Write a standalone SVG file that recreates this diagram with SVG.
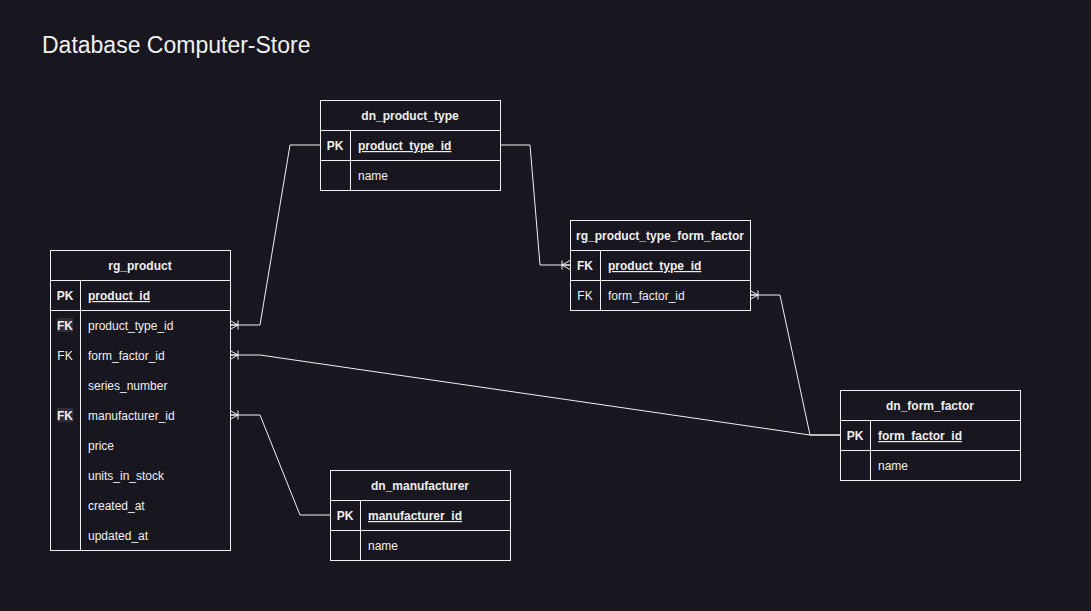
<svg xmlns="http://www.w3.org/2000/svg" width="1091" height="611" viewBox="0 0 1091 611">
<style>
text{font-family:"Liberation Sans",Arial,Helvetica,sans-serif;font-size:12px;fill:#f0f0f0}
.title{font-size:23px}
.hd{font-weight:bold;text-anchor:middle}
.key{font-weight:bold;text-anchor:middle}
.fk{text-anchor:middle}
.pk{text-decoration:underline;font-weight:bold}
.box{fill:#18161f;stroke:#f0f0f0;stroke-width:1}
.ln{stroke:#f0f0f0;stroke-width:1;fill:none}
.hl{fill:#302e36}
</style>
<defs>
<marker id="crow" markerUnits="userSpaceOnUse" viewBox="-1 -6 12 12" refX="0" refY="0" markerWidth="12" markerHeight="12" orient="auto" overflow="visible">
<path d="M0,-4.5 L8,0 L0,4.5 M0,0 L8,0 M8,-4.5 L8,4.5" fill="none" stroke="#f0f0f0" stroke-width="1"/>
</marker>
</defs>
<rect width="1091" height="611" fill="#18161f"/>
<text class="title" x="42" y="53">Database Computer-Store</text>

<g id="connectors">
<path class="ln" d="M230,325 L260,325 L290,145 L320,145" marker-start="url(#crow)"/>
<path class="ln" d="M570,265 L540,265 L530,145 L500,145" marker-start="url(#crow)"/>
<path class="ln" d="M750,295 L780,295 L810,435 L840,435" marker-start="url(#crow)"/>
<path class="ln" d="M230,355 L260,355 L810,435 L840,435" marker-start="url(#crow)"/>
<path class="ln" d="M230,415 L260,415 L300,515 L330,515" marker-start="url(#crow)"/>
</g>

<g id="rg_product">
<rect class="box" x="50.5" y="250.5" width="180" height="300"/>
<line class="ln" x1="50.5" y1="280.5" x2="230.5" y2="280.5"/>
<line class="ln" x1="50.5" y1="310.5" x2="230.5" y2="310.5"/>
<line class="ln" x1="80.5" y1="280.5" x2="80.5" y2="550.5"/>
<text class="hd" x="140" y="270">rg_product</text>
<text class="key" x="65" y="300">PK</text>
<text class="pk" x="88" y="300">product_id</text>
<rect class="hl" x="57" y="318" width="16" height="14"/>
<text class="key" x="65" y="330">FK</text>
<text x="88" y="330">product_type_id</text>
<text class="fk" x="65" y="360">FK</text>
<text x="88" y="360">form_factor_id</text>
<text x="88" y="390">series_number</text>
<rect class="hl" x="57" y="408" width="16" height="14"/>
<text class="key" x="65" y="420">FK</text>
<text x="88" y="420">manufacturer_id</text>
<text x="88" y="450">price</text>
<text x="88" y="480">units_in_stock</text>
<text x="88" y="510">created_at</text>
<text x="88" y="540">updated_at</text>
</g>

<g id="dn_product_type">
<rect class="box" x="320.5" y="100.5" width="180" height="90"/>
<line class="ln" x1="320.5" y1="130.5" x2="500.5" y2="130.5"/>
<line class="ln" x1="320.5" y1="160.5" x2="500.5" y2="160.5"/>
<line class="ln" x1="350.5" y1="130.5" x2="350.5" y2="190.5"/>
<text class="hd" x="410" y="120">dn_product_type</text>
<text class="key" x="335" y="150">PK</text>
<text class="pk" x="358" y="150">product_type_id</text>
<text x="358" y="180">name</text>
</g>

<g id="rg_product_type_form_factor">
<rect class="box" x="570.5" y="220.5" width="180" height="90"/>
<line class="ln" x1="570.5" y1="250.5" x2="750.5" y2="250.5"/>
<line class="ln" x1="570.5" y1="280.5" x2="750.5" y2="280.5"/>
<line class="ln" x1="600.5" y1="250.5" x2="600.5" y2="310.5"/>
<text class="hd" x="660" y="240">rg_product_type_form_factor</text>
<text class="key" x="585" y="270">FK</text>
<text class="pk" x="608" y="270">product_type_id</text>
<text class="fk" x="585" y="300">FK</text>
<text x="608" y="300">form_factor_id</text>
</g>

<g id="dn_form_factor">
<rect class="box" x="840.5" y="390.5" width="180" height="90"/>
<line class="ln" x1="840.5" y1="420.5" x2="1020.5" y2="420.5"/>
<line class="ln" x1="840.5" y1="450.5" x2="1020.5" y2="450.5"/>
<line class="ln" x1="870.5" y1="420.5" x2="870.5" y2="480.5"/>
<text class="hd" x="930" y="410">dn_form_factor</text>
<text class="key" x="855" y="440">PK</text>
<text class="pk" x="878" y="440">form_factor_id</text>
<text x="878" y="470">name</text>
</g>

<g id="dn_manufacturer">
<rect class="box" x="330.5" y="470.5" width="180" height="90"/>
<line class="ln" x1="330.5" y1="500.5" x2="510.5" y2="500.5"/>
<line class="ln" x1="330.5" y1="530.5" x2="510.5" y2="530.5"/>
<line class="ln" x1="360.5" y1="500.5" x2="360.5" y2="560.5"/>
<text class="hd" x="420" y="490">dn_manufacturer</text>
<text class="key" x="345" y="520">PK</text>
<text class="pk" x="368" y="520">manufacturer_id</text>
<text x="368" y="550">name</text>
</g>
</svg>
